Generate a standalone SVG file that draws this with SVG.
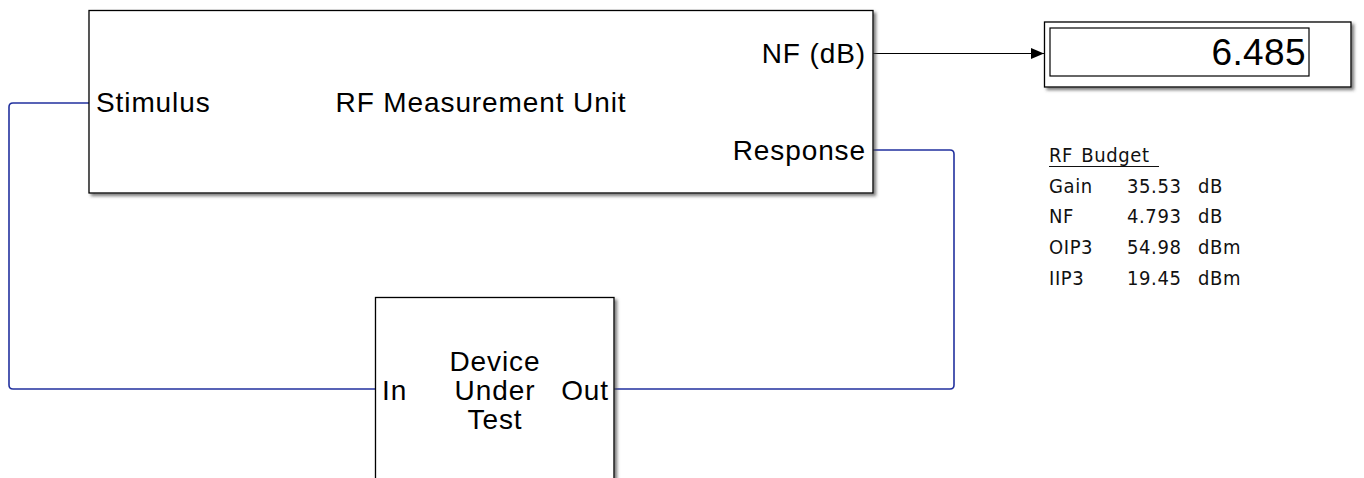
<svg xmlns="http://www.w3.org/2000/svg" width="1364" height="478" viewBox="0 0 1364 478">
  <style>
    .blk { fill: #ffffff; stroke: #000000; stroke-width: 1.3; filter: url(#shadow); }
    .lbl { font-family: "Liberation Sans", Arial, sans-serif; font-size: 28px; fill: #000000; letter-spacing: 0.9px; }
    .disp { font-family: "Liberation Sans", Arial, sans-serif; font-size: 37px; fill: #000000; letter-spacing: 0.4px; }
    .bud { font-family: "DejaVu Sans Condensed", "DejaVu Sans", Verdana, sans-serif; font-stretch: condensed; font-size: 20px; fill: #111111; letter-spacing: 0.6px; }
    .sig { fill: none; stroke: #22319e; stroke-width: 1.6; }
    .blackline { fill: none; stroke: #000000; stroke-width: 1.2; }
  </style>
  <defs>
    <filter id="shadow" x="-5%" y="-5%" width="115%" height="120%">
      <feDropShadow dx="2.5" dy="2.5" stdDeviation="1.5" flood-color="#444444" flood-opacity="0.7"/>
    </filter>
    <marker id="arrow" viewBox="0 0 12 10" refX="12" refY="5" markerWidth="13" markerHeight="11" markerUnits="userSpaceOnUse" orient="auto">
      <path d="M0,0 L12,5 L0,10 z" fill="#000000"/>
    </marker>
  </defs>

  <g id="connectors">
    <path class="sig" d="M89,103 H13 Q9,103 9,107 V385 Q9,389 13,389 H375"/>
    <path class="sig" d="M614,389 H950 Q954,389 954,385 V154 Q954,150 950,150 H873"/>
    <path class="blackline" d="M873,53.5 H1044" marker-end="url(#arrow)"/>
  </g>

  <g id="rf-measurement-unit">
    <rect class="blk" x="89" y="10.5" width="784" height="182.5"/>
    <text class="lbl" x="96" y="112">Stimulus</text>
    <text class="lbl" x="481" y="112" text-anchor="middle">RF Measurement Unit</text>
    <text class="lbl" x="866" y="63" text-anchor="end">NF (dB)</text>
    <text class="lbl" x="866" y="160" text-anchor="end">Response</text>
  </g>

  <g id="display">
    <rect class="blk" x="1044.5" y="22" width="306.5" height="65"/>
    <rect x="1050" y="28" width="259" height="48" fill="none" stroke="#000000" stroke-width="1.2"/>
    <text class="disp" x="1306" y="65" text-anchor="end">6.485</text>
  </g>

  <g id="device-under-test">
    <rect class="blk" x="375.5" y="297.5" width="238.5" height="200"/>
    <text class="lbl" x="382" y="400">In</text>
    <text class="lbl" x="609" y="400" text-anchor="end">Out</text>
    <text class="lbl" x="495" y="371" text-anchor="middle">Device</text>
    <text class="lbl" x="495" y="400" text-anchor="middle">Under</text>
    <text class="lbl" x="495" y="429" text-anchor="middle">Test</text>
  </g>

  <g id="rf-budget">
    <text class="bud" x="1049" y="162" word-spacing="2">RF Budget</text>
    <line x1="1049" y1="166.5" x2="1159" y2="166.5" stroke="#111111" stroke-width="1.2"/>
    <text class="bud" x="1049" y="193">Gain</text>
    <text class="bud" x="1127" y="193">35.53</text>
    <text class="bud" x="1198" y="193">dB</text>
    <text class="bud" x="1049" y="223">NF</text>
    <text class="bud" x="1127" y="223">4.793</text>
    <text class="bud" x="1198" y="223">dB</text>
    <text class="bud" x="1049" y="254">OIP3</text>
    <text class="bud" x="1127" y="254">54.98</text>
    <text class="bud" x="1198" y="254">dBm</text>
    <text class="bud" x="1049" y="285">IIP3</text>
    <text class="bud" x="1127" y="285">19.45</text>
    <text class="bud" x="1198" y="285">dBm</text>
  </g>
</svg>
